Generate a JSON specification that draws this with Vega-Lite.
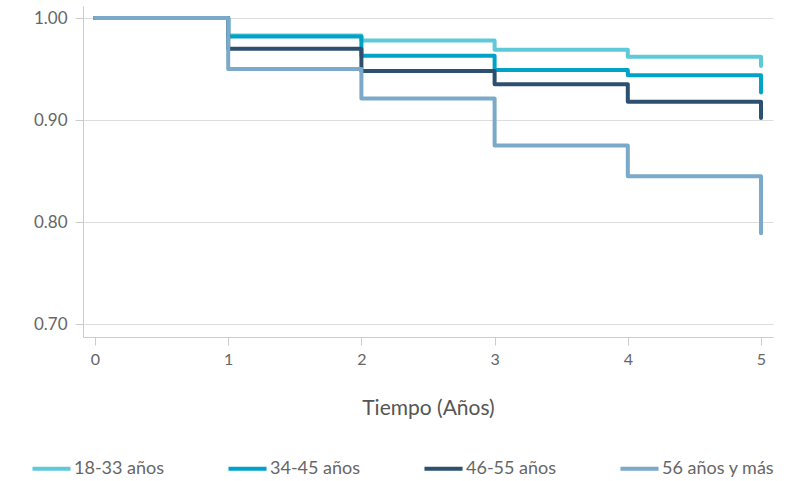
{
  "$schema": "https://vega.github.io/schema/vega-lite/v6.json",
  "width": 690,
  "height": 331,
  "autosize": {"type": "none"},
  "padding": {"left": 83, "top": 6, "right": 28, "bottom": 144},
  "background": "white",
  "config": {"view": {"stroke": null}, "font": "Lato"},
  "data": {"values": [
    {"t": 0, "s": 1.0, "g": "18-33 años"},
    {"t": 1, "s": 0.983, "g": "18-33 años"},
    {"t": 2, "s": 0.978, "g": "18-33 años"},
    {"t": 3, "s": 0.969, "g": "18-33 años"},
    {"t": 4, "s": 0.962, "g": "18-33 años"},
    {"t": 5, "s": 0.953, "g": "18-33 años"},
    {"t": 0, "s": 1.0, "g": "34-45 años"},
    {"t": 1, "s": 0.982, "g": "34-45 años"},
    {"t": 2, "s": 0.963, "g": "34-45 años"},
    {"t": 3, "s": 0.949, "g": "34-45 años"},
    {"t": 4, "s": 0.944, "g": "34-45 años"},
    {"t": 5, "s": 0.927, "g": "34-45 años"},
    {"t": 0, "s": 1.0, "g": "46-55 años"},
    {"t": 1, "s": 0.970, "g": "46-55 años"},
    {"t": 2, "s": 0.948, "g": "46-55 años"},
    {"t": 3, "s": 0.935, "g": "46-55 años"},
    {"t": 4, "s": 0.918, "g": "46-55 años"},
    {"t": 5, "s": 0.902, "g": "46-55 años"},
    {"t": 0, "s": 1.0, "g": "56 años y más"},
    {"t": 1, "s": 0.950, "g": "56 años y más"},
    {"t": 2, "s": 0.921, "g": "56 años y más"},
    {"t": 3, "s": 0.875, "g": "56 años y más"},
    {"t": 4, "s": 0.845, "g": "56 años y más"},
    {"t": 5, "s": 0.789, "g": "56 años y más"}
  ]},
  "mark": {"type": "line", "interpolate": "step-after", "strokeWidth": 4, "strokeCap": "round", "strokeJoin": "round"},
  "encoding": {
    "x": {
      "field": "t", "type": "quantitative",
      "scale": {"domain": [-0.09, 5.09], "nice": false, "zero": false},
      "axis": {
        "title": "Tiempo (Años)", "values": [0, 1, 2, 3, 4, 5], "format": "d",
        "grid": false, "domainColor": "#cccccc", "tickColor": "#cccccc", "tickSize": 8,
        "labelFontSize": 16, "labelColor": "#666666", "labelPadding": 6, "labelFont": "Lato",
        "titleFontSize": 21, "titleFontWeight": "normal", "titleColor": "#555555", "titlePadding": 30, "titleFont": "Lato"
      }
    },
    "y": {
      "field": "s", "type": "quantitative",
      "scale": {"domain": [0.6873, 1.0118], "nice": false, "zero": false},
      "axis": {
        "title": null, "values": [0.7, 0.8, 0.9, 1.0], "format": ".2f",
        "grid": true, "gridColor": "#dddddd", "domainColor": "#cccccc", "tickColor": "#cccccc", "tickSize": 8,
        "labelFontSize": 17, "labelColor": "#666666", "labelPadding": 8, "labelFont": "Lato"
      }
    },
    "color": {
      "field": "g", "type": "nominal",
      "scale": {"domain": ["18-33 años", "34-45 años", "46-55 años", "56 años y más"], "range": ["#5ec9d8", "#00a3c7", "#2d5070", "#7aa9c9"]},
      "legend": {
        "title": null, "orient": "none", "direction": "horizontal", "legendX": -53, "legendY": 441,
        "symbolType": "stroke", "symbolSize": 1450, "symbolStrokeWidth": 4,
        "labelFontSize": 18, "labelColor": "#666666", "labelFont": "Lato", "labelOffset": 1,
        "columnPadding": 55, "labelLimit": 200
      }
    }
  }
}
